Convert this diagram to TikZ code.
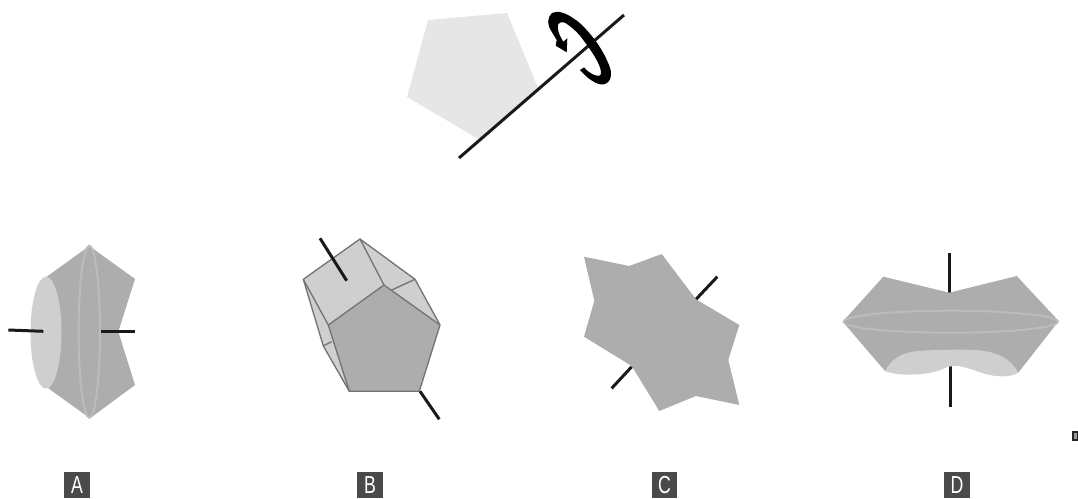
\documentclass[tikz,border=0pt]{standalone}
\usepackage{fontspec}
\newfontfamily\tagfont[FakeStretch=0.72]{Liberation Sans}
\usepackage{tikz}
\definecolor{solidgray}{HTML}{ADADAD}
\definecolor{capgray}{HTML}{CFCFCF}
\definecolor{ringgray}{HTML}{BCBCBC}
\definecolor{sheetgray}{HTML}{E6E6E6}
\definecolor{taggray}{HTML}{4A4A4A}
\tikzset{
  axisline/.style={line width=1.7pt, black!90},
  solidface/.style={fill=solidgray},
  capface/.style={fill=capgray},
  ringline/.style={draw=ringgray, line width=1.1pt},
  edgeline/.style={draw=black!55, line width=0.75pt, line join=round},
  tagbox/.style={fill=taggray, text=white, minimum size=25.6*0.02cm, inner sep=0pt, font=\tagfont\fontsize{14}{14}\selectfont}
}
\begin{document}
\begin{tikzpicture}[x=0.02cm, y=-0.02cm]
  \useasboundingbox (0,0) rectangle (1078,499);
  % rotated pentagon and its axis
  \fill[sheetgray] (428,20) -- (507,13) -- (538,88) -- (480,140) -- (407,97) -- cycle;
  \draw[axisline] (459,158) -- (624,15);
  % turning arrow
  \fill[black] (580,70) .. controls (587,78) and (596,85) .. (603.3,84.5)
    .. controls (611,83) and (613,74) .. (609,65)
    .. controls (605,55) and (600,47) .. (595,40)
    .. controls (587,30) and (581,23) .. (573.3,18.3)
    .. controls (566,13) and (557,10) .. (552,13)
    .. controls (547,17) and (547,25) .. (551.7,31.7)
    -- (556.7,40) -- (555.7,45.7) -- (566.7,52.3) -- (567.3,38.3) -- (563.3,41.7)
    .. controls (559,35) and (556.5,28) .. (558.3,24)
    .. controls (561,21) and (565,22) .. (568.3,25)
    .. controls (574,29) and (579,34) .. (583.3,40)
    .. controls (590,49) and (596,58) .. (598.3,63.3)
    .. controls (601,69) and (602,74) .. (600,75.5)
    .. controls (597,77) and (590,74) .. (584,67.5) -- cycle;
  % A
  \fill[solidface] (89.3,246) -- (135,279) -- (118.3,331.7) -- (135,385) -- (90,418.3) -- (48.3,388.3) -- (46.7,276.7) -- cycle;
  \draw[ringline] (89.3,331.7) ellipse (10.7 and 86);
  \fill[capface] (46,332.7) ellipse (15.5 and 56);
  \draw[axisline] (8.3,330) -- (43.3,331.3);
  \draw[axisline] (101,331.7) -- (135,331.7);
  % B
  \fill[capface] (360,239) -- (303.3,279.3) -- (323.3,346) -- (349.3,391.3) -- (419.3,391.3) -- (440,325) -- (415,279.3) -- cycle;
  \fill[solidface] (328.3,325) -- (384,285) -- (440,325) -- (419.3,391.3) -- (349.3,391.3) -- cycle;
  \draw[edgeline] (360,239) -- (303.3,279.3) -- (323.3,346) -- (349.3,391.3) -- (419.3,391.3) -- (440,325) -- (415,279.3) -- cycle;
  \draw[edgeline] (328.3,325) -- (384,285) -- (440,325);
  \draw[edgeline] (303.3,279.3) -- (328.3,325) -- (349.3,391.3);
  \draw[edgeline] (360,239) -- (384,285);
  \draw[edgeline] (391.7,290) -- (415,279.3);
  \draw[edgeline] (323.3,346) -- (331.7,341.7);
  \draw[axisline] (320,238.3) -- (346.7,280.7);
  \draw[axisline] (420,391.3) -- (439.3,419.3);
  % C
  \draw[axisline] (717.3,276.7) -- (696,299.3);
  \draw[axisline] (631.7,366.7) -- (611.7,388.3);
  \fill[solidface] (584,256.7) -- (629.3,266) -- (661.7,254) -- (696,299.3) -- (739.3,325) -- (728.3,360) -- (739.3,405) -- (696,396) -- (659.3,411) -- (631.7,366) -- (584,336.7) -- (594.3,300.7) -- cycle;
  % D
  \draw[axisline] (949.3,252.7) -- (949.3,294);
  \draw[axisline] (950,364) -- (950,407);
  \fill[solidface] (883.3,276.7) -- (949.3,292.7) -- (1016.7,276) -- (1058.7,321) -- (1018.3,372.7) -- (950,358) -- (885,371) -- (842.7,321.7) -- cycle;
  \draw[ringline] (950.7,321.7) ellipse (107 and 11);
  \fill[capface] (885,371) .. controls (891,360) and (900,352.5) .. (918,351)
    .. controls (940,349.5) and (960,349.5) .. (975,350)
    .. controls (998,351.5) and (1011,359) .. (1018.3,372.7)
    .. controls (1010,378) and (995,377) .. (983,373.3)
    .. controls (970,369) and (958,364) .. (951,366.5)
    .. controls (949,367) .. (948,366.7)
    .. controls (938,372) and (925,375) .. (905,374.5)
    .. controls (897,374.5) and (890,373) .. (885,371) -- cycle;
  % answer tags
  \node[tagbox] (tagA) at (77,485) {A};
  \node[tagbox] (tagB) at (370,485) {B};
  \node[tagbox] (tagC) at (664.5,485) {C};
  \node[tagbox] (tagD) at (957,485) {D};
  % stray mark at the right edge
  \fill[black!85] (1072,431) rectangle (1078,441);
  \fill[black!40] (1074,433) rectangle (1076.5,439);
\end{tikzpicture}
\end{document}
